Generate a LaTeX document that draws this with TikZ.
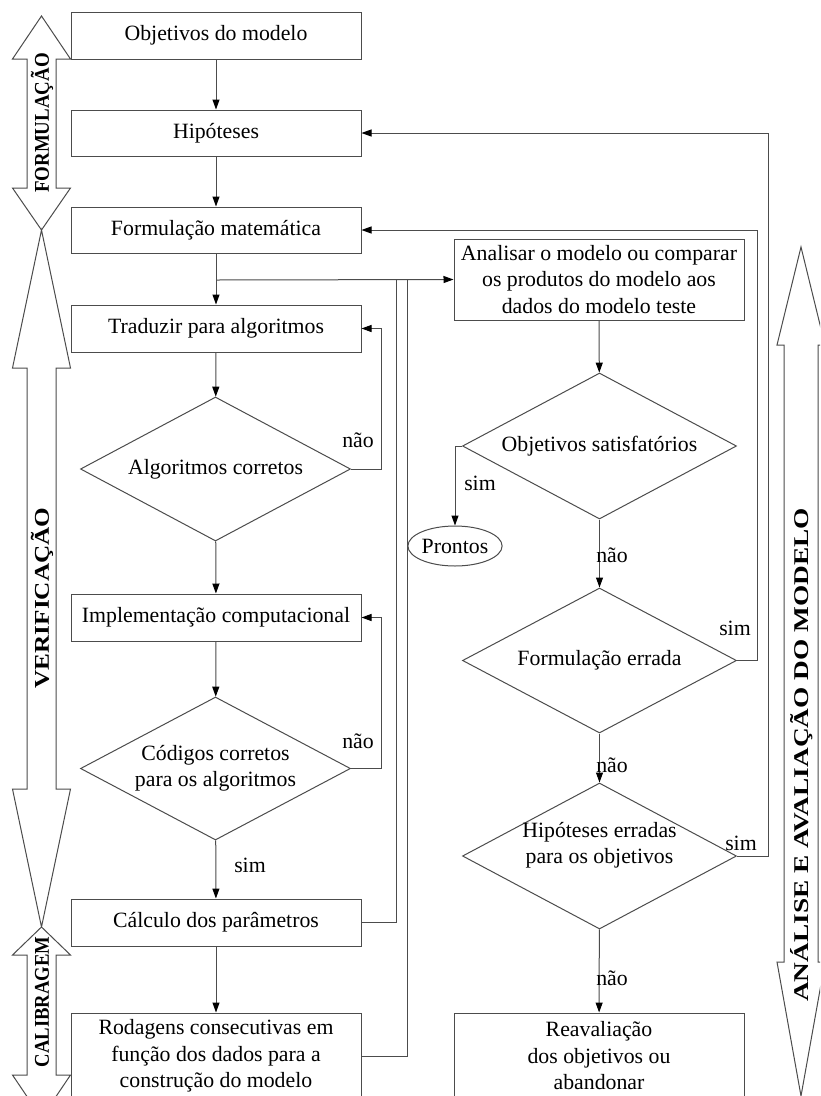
\documentclass[tikz,border=0pt]{standalone}
\usepackage{graphicx}
\usepackage{fontspec}
\setmainfont{Liberation Serif}
\usetikzlibrary{arrows.meta,shapes.geometric}

% bold side label, stretched or squeezed along its baseline
\newcommand\sidelabel[2]{\scalebox{#1}[1]{\fontsize{21}{21}\selectfont\bfseries #2}}

\begin{document}
\begin{tikzpicture}[x=1pt,y=-1pt,
  line width=1pt,
  every node/.style={font=\fontsize{21.8}{26.5}\selectfont, inner sep=0pt},
  box/.style={draw=black!70, rectangle, minimum width=290pt, align=center},
  decision/.style={draw=black!70, diamond},
  dtext/.style={align=center},
  terminal/.style={draw=black!70, ellipse, minimum width=86pt, minimum height=40pt},
  link/.style={draw=black!70},
  arr/.style={link, -{Triangle[length=10pt,width=7pt,color=black]}},
  bigarrow/.style={draw=black!70, fill=white, line width=1pt, line join=miter},
  answer/.style={font=\fontsize{21.8}{24}\selectfont}
]
\clip (0,0) rectangle (820,1096);
\fill[white] (0,0) rectangle (820,1096);

% ---- phase arrows on the left ----
\draw[bigarrow] (12.5,59) -- (41.5,16) -- (70.5,59) -- (56,59) -- (56,188) -- (70.5,188)
  -- (41.5,230) -- (12.5,188) -- (27,188) -- (27,59) -- cycle;
\node[rotate=90] (lform) at (42,123) {\sidelabel{0.9}{FORMULAÇÃO}};

\draw[bigarrow] (12.5,368) -- (41.5,230) -- (70.5,368) -- (56,368) -- (56,789) -- (70.5,789)
  -- (41.5,927) -- (12.5,789) -- (27,789) -- (27,368) -- cycle;
\node[rotate=90] (lverif) at (42,598) {\sidelabel{1.2}{VERIFICAÇÃO}};

\draw[bigarrow] (12.5,955) -- (41.5,927) -- (70.5,955) -- (56,955) -- (56,1075) -- (70.5,1075)
  -- (41.5,1118) -- (12.5,1075) -- (27,1075) -- (27,955) -- cycle;
\node[rotate=90] (lcalib) at (42,1002) {\sidelabel{0.89}{CALIBRAGEM}};

% ---- phase arrow on the right ----
\draw[bigarrow] (777,345) -- (801,247) -- (825,345) -- (818,345) -- (818,962) -- (825,962)
  -- (801,1096) -- (777,962) -- (784,962) -- (784,345) -- cycle;
\node[rotate=90] (lanal) at (802,755) {\sidelabel{1.3}{ANÁLISE E AVALIAÇÃO DO MODELO}};

% ---- left column ----
\node[box, minimum height=47pt] (obj)  at (216,35.5)  {Objetivos do modelo};
\node[box, minimum height=46pt] (hip)  at (216,133)   {Hipóteses};
\node[box, minimum height=46pt] (form) at (216,230)   {Formulação matemática};
\node[box, minimum height=47pt] (trad) at (216,328.5) {Traduzir para algoritmos};
\node[decision, minimum width=270pt, minimum height=144pt] (alg) at (215.5,469) {};
\node[dtext] (alg-t) at (alg) {Algoritmos corretos};
\node[box, minimum height=47pt] (impl) at (216,617.5) {Implementação computacional};
\node[decision, minimum width=270pt, minimum height=143pt] (cod) at (215.5,768.5) {};
\node[dtext] (cod-t) at (cod) {Códigos corretos\\para os algoritmos};
\node[box, minimum height=47pt] (calc) at (216,922.5) {Cálculo dos parâmetros};
\node[box, minimum height=86pt] (rod) at (216,1056)
  {Rodagens consecutivas em\\função dos dados para a\\construção do modelo};

% ---- right column ----
\node[box, minimum height=81pt] (ana) at (599,279.5)
  {Analisar o modelo ou comparar\\os produtos do modelo aos\\dados do modelo teste};
\node[decision, minimum width=274pt, minimum height=146pt] (objs) at (599.5,446) {};
\node[dtext] (objs-t) at (objs) {Objetivos satisfatórios};
\node[terminal] (pront) at (455,546) {Prontos};
\node[decision, minimum width=274pt, minimum height=145pt] (ferr) at (599.5,660.5) {};
\node[dtext] (ferr-t) at (ferr) {Formulação errada};
\node[decision, minimum width=274pt, minimum height=146pt] (herr) at (599.5,856) {};
\node[dtext] (herr-t) at (599.5,845) {Hipóteses erradas\\para os objetivos};
\node[box, minimum height=86pt] (reav) at (599,1056)
  {Reavaliação\\dos objetivos ou\\abandonar};

% ---- junction points of the feed into the analysis box ----
\coordinate (jf) at (216,280);
\coordinate (jc) at (396,280);
\coordinate (jr) at (407,280);

% ---- main flow ----
\draw[arr] (obj) -- (hip);
\draw[arr] (hip) -- (form);
\draw[arr] (form) -- (trad);
\draw[arr] (trad) -- (alg);
\draw[arr] (alg) -- (impl);
\draw[arr] (impl) -- (cod);
\draw[arr] (cod) -- (calc);
\draw[arr] (calc) -- (rod);
\draw[arr] (jf) -- (ana.west);
\draw[link] (calc.east) -| (jc);
\draw[link] (rod.east) -| (jr);

% ---- loops back ----
\draw[arr] (alg.east) -- ++(30,0) |- (trad.east);
\draw[arr] (cod.east) -- ++(30,0) |- (impl.east);

% ---- analysis branch ----
\draw[arr] (ana) -- (objs);
\draw[arr] (objs.west) -| (pront.north);
\draw[arr] (objs) -- (ferr);
\draw[arr] (ferr) -- (herr);
\draw[arr] (herr) -- (reav);
\draw[arr] (ferr.east) -- ++(20,0) |- (form.east);
\draw[arr] (herr.east) -- ++(31,0) |- (hip.east);

% ---- answers ----
\node[answer] (n1) at (358,440) {não};
\node[answer] (n2) at (358,741) {não};
\node[answer] (s1) at (250,865) {sim};
\node[answer] (s2) at (480,483) {sim};
\node[answer] (n3) at (612,555) {não};
\node[answer] (s3) at (735,628) {sim};
\node[answer] (n4) at (612,765) {não};
\node[answer] (s4) at (741,843) {sim};
\node[answer] (n5) at (612,978) {não};
\end{tikzpicture}
\end{document}
